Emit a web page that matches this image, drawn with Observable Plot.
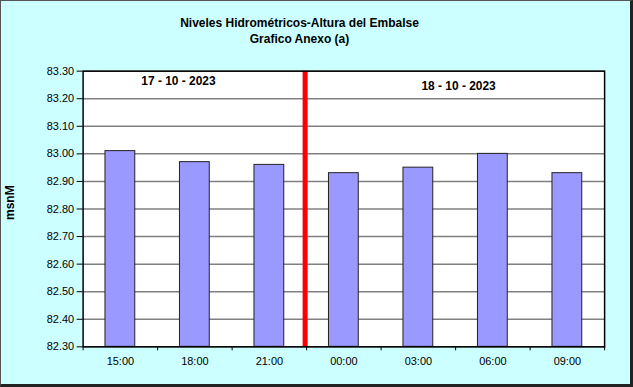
<!DOCTYPE html>
<html>
<head>
<meta charset="utf-8">
<script src="https://cdn.jsdelivr.net/npm/d3@7"></script>
<script src="https://cdn.jsdelivr.net/npm/@observablehq/plot@0.6"></script>
<style>
  html, body { margin: 0; padding: 0; background: #fff; }
  #wrap { position: relative; width: 629px; height: 383px; background: #CCFFFF;
          border-left: 1px solid #555; border-top: 1px solid #555;
          border-right: 3px solid #222; border-bottom: 3px solid #222; overflow: hidden; }
  #title { position: absolute; left: 0; top: 14px; width: 597px; text-align: center;
           font: bold 12px Arial, "Liberation Sans", sans-serif; line-height: 16px; color: #000; }
  #chart { position: absolute; left: -1px; top: -1px; }
  #ylab { position: absolute; left: -1px; top: 209px; transform: translate(0,-50%) rotate(-90deg);
          transform-origin: center; font: bold 12px Arial, "Liberation Sans", sans-serif; width: 20px; text-align: center; }
</style>
</head>
<body>
<div id="wrap">
  <div id="title">Niveles Hidrométricos-Altura del Embalse<br>Grafico Anexo (a)</div>
  <div id="chart"></div>
</div>
<script>
const hours = ["15:00", "18:00", "21:00", "00:00", "03:00", "06:00", "09:00"];
const levels = [83.01, 82.97, 82.96, 82.93, 82.95, 83.00, 82.93];
const yTicks = [82.30, 82.40, 82.50, 82.60, 82.70, 82.80, 82.90, 83.00, 83.10, 83.20, 83.30];
const dates = ["17 - 10 - 2023", "18 - 10 - 2023"];
const datePos = [0.78, 4.54];
const dateLevel = [83.264, 83.246];
const yLabel = "msnM";

const data = hours.map((h, i) => ({hour: h, i, level: levels[i]}));
const bounds = d3.range(-0.5, hours.length, 1);
const dayBreak = hours.indexOf("00:00") - 0.5;
const yMin = yTicks[0], yMax = yTicks[yTicks.length - 1];
const font = "Arial, 'Liberation Sans', sans-serif";

const chart = Plot.plot({
  width: 633, height: 387,
  marginLeft: 83, marginRight: 26, marginTop: 71, marginBottom: 39,
  style: {background: "transparent", fontFamily: font, fontSize: "11px", color: "#000"},
  x: {domain: [-0.5, hours.length - 0.5]},
  y: {domain: [yMin, yMax]},
  marks: [
    Plot.frame({fill: "white", stroke: "none"}),
    Plot.ruleY(yTicks, {stroke: "#808080", strokeWidth: 1.5}),
    Plot.rectY(data, {x1: d => d.i - 0.2, x2: d => d.i + 0.2, y1: yMin, y2: "level",
      fill: "#9999FF", stroke: "#222", strokeWidth: 1}),
    Plot.ruleX([dayBreak], {stroke: "#FF0000", strokeWidth: 5, dx: -1.5}),
    Plot.frame({stroke: "#000", strokeWidth: 1.5}),
    Plot.axisY({ticks: yTicks, tickFormat: d => d.toFixed(2), tickSize: 6, tickPadding: 3, fontSize: 11, label: null}),
    Plot.axisX({ticks: bounds, tickFormat: () => "", tickSize: 4, label: null}),
    Plot.axisX({ticks: d3.range(hours.length), tickFormat: i => hours[i], tickSize: 0, tickPadding: 10, fontSize: 11, label: null}),
    Plot.text(dates, {x: (d, k) => datePos[k], y: (d, k) => dateLevel[k], text: d => d,
      fontWeight: "bold", fontSize: 12})
  ]
});
document.getElementById("chart").appendChild(chart);
const yl = document.createElement("div");
yl.id = "ylab"; yl.textContent = yLabel;
document.getElementById("wrap").appendChild(yl);
</script>
</body>
</html>
